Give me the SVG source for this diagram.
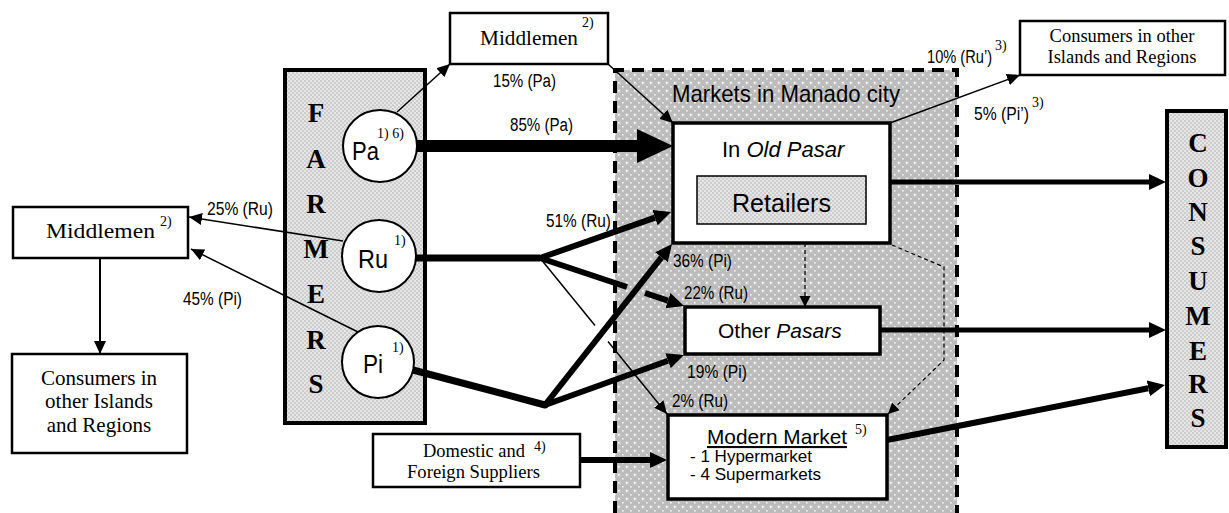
<svg xmlns="http://www.w3.org/2000/svg" width="1229" height="513" viewBox="0 0 1229 513">
<defs>
<pattern id="dots" width="8" height="8" patternUnits="userSpaceOnUse">
<rect width="8" height="8" fill="#bcbcbc"/>
<rect x="1" y="1" width="4" height="4" fill="#c6c6c6"/>
<rect x="2" y="2" width="1.6" height="1.6" fill="#ffffff"/>
<rect x="6" y="6" width="1.6" height="1.6" fill="#f4f4f4"/>
</pattern>
<pattern id="light" width="4" height="4" patternUnits="userSpaceOnUse">
<rect width="4" height="4" fill="#e6e6e6"/>
<rect x="0" y="0" width="2" height="2" fill="#cdcdcd"/>
<rect x="2" y="2" width="2" height="2" fill="#cdcdcd"/>
</pattern>
<marker id="thin" markerUnits="userSpaceOnUse" markerWidth="14" markerHeight="12" refX="13" refY="6" orient="auto">
<path d="M0,0 L13,6 L0,12 Z" fill="#000"/>
</marker>
<marker id="dash" markerUnits="userSpaceOnUse" markerWidth="12" markerHeight="12" refX="11" refY="5.5" orient="auto">
<path d="M0,0 L11,5.5 L0,11 Z" fill="#000"/>
</marker>
<marker id="med" markerUnits="userSpaceOnUse" markerWidth="18" markerHeight="17" refX="0" refY="8" orient="auto">
<path d="M0,0 L17,8 L0,16 Z" fill="#000"/>
</marker>
<marker id="big" markerUnits="userSpaceOnUse" markerWidth="37" markerHeight="35" refX="0" refY="17" orient="auto">
<path d="M0,0 L36,17 L0,34 Z" fill="#000"/>
</marker>
</defs>
<style>
.box{fill:#fff;stroke:#000;stroke-width:2.5}
.bold{fill:#fff;stroke:#000;stroke-width:3.5}
.serif{font-family:"Liberation Serif","Times New Roman",serif;fill:#000}
.sans{font-family:"Liberation Sans",Arial,sans-serif;fill:#000}
.lbl{font-family:"Liberation Sans",Arial,sans-serif;font-size:18px;fill:#000}
.sup{font-family:"Liberation Serif","Times New Roman",serif;font-size:14px;fill:#000}
.big{font-family:"Liberation Serif","Times New Roman",serif;font-weight:bold;font-size:27px;text-anchor:middle;fill:#000}
.thin{fill:none;stroke:#000;stroke-width:1.5}
.thick{fill:none;stroke:#000;stroke-width:6}
</style>

<g id="markets-area">
<rect x="615" y="70" width="342" height="445" fill="url(#dots)"/>
<path d="M615,513 V70 H957 V513" fill="none" stroke="#000" stroke-width="4" stroke-dasharray="12 8"/>
<text class="sans" x="672" y="102" font-size="24" textLength="228" lengthAdjust="spacingAndGlyphs">Markets in Manado city</text>
</g>

<g id="middlemen-left">
<rect class="box" x="13" y="207" width="175" height="51"/>
<text class="serif" x="46" y="238" font-size="22" textLength="109" lengthAdjust="spacingAndGlyphs">Middlemen</text>
<text class="sup" x="160" y="226" font-size="15">2)</text>
</g>

<g id="consumers-left">
<rect class="box" x="12" y="354" width="175" height="99"/>
<text class="serif" x="99" y="385" font-size="21" text-anchor="middle">Consumers in</text>
<text class="serif" x="99" y="408" font-size="21" text-anchor="middle">other Islands</text>
<text class="serif" x="99" y="432" font-size="21" text-anchor="middle">and Regions</text>
</g>

<g id="farmers">
<rect x="285" y="70" width="140" height="353" fill="url(#light)" stroke="#000" stroke-width="4"/>
<text class="big" x="316" y="122">F</text>
<text class="big" x="316" y="168">A</text>
<text class="big" x="316" y="213">R</text>
<text class="big" x="316" y="258">M</text>
<text class="big" x="316" y="303">E</text>
<text class="big" x="316" y="349">R</text>
<text class="big" x="316" y="393">S</text>
</g>

<g id="middlemen-top">
<rect class="box" x="450" y="13" width="158" height="51"/>
<text class="serif" x="480" y="45" font-size="21" textLength="98" lengthAdjust="spacingAndGlyphs">Middlemen</text>
<text class="sup" x="582" y="27" font-size="15">2)</text>
</g>

<g id="consumers-top">
<rect class="box" x="1020" y="21" width="205" height="54"/>
<text class="serif" x="1122" y="42" font-size="18.5" text-anchor="middle">Consumers in other</text>
<text class="serif" x="1122" y="63" font-size="18.5" text-anchor="middle">Islands and Regions</text>
</g>

<g id="domestic">
<rect class="box" x="373" y="434" width="207" height="53" stroke-width="2"/>
<text class="serif" x="423" y="457" font-size="18.5" textLength="102" lengthAdjust="spacingAndGlyphs">Domestic and</text>
<text class="serif" x="407" y="478" font-size="18.5" textLength="133" lengthAdjust="spacingAndGlyphs">Foreign Suppliers</text>
<text class="sup" x="534" y="451">4)</text>
</g>

<g id="consumers-right">
<rect x="1167" y="111" width="59" height="336" fill="url(#light)" stroke="#000" stroke-width="4"/>
<text class="big" x="1198" y="152">C</text>
<text class="big" x="1198" y="187">O</text>
<text class="big" x="1198" y="221">N</text>
<text class="big" x="1198" y="255">S</text>
<text class="big" x="1198" y="290">U</text>
<text class="big" x="1198" y="325">M</text>
<text class="big" x="1198" y="360">E</text>
<text class="big" x="1198" y="393">R</text>
<text class="big" x="1198" y="427">S</text>
</g>

<g id="connectors">
<line class="thin" x1="397" y1="112" x2="450" y2="64" marker-end="url(#thin)"/>
<line class="thin" x1="608" y1="64" x2="673" y2="123" marker-end="url(#thin)"/>
<line x1="417" y1="146" x2="637" y2="146" stroke="#000" stroke-width="12" marker-end="url(#big)"/>
<line class="thin" x1="343" y1="241" x2="189" y2="217" marker-end="url(#thin)"/>
<line class="thin" x1="358" y1="332" x2="191" y2="249" marker-end="url(#thin)"/>
<line x1="100" y1="258" x2="100" y2="354" stroke="#000" stroke-width="2" marker-end="url(#thin)"/>
<polyline points="416,258 540,258" fill="none" stroke="#000" stroke-width="7"/>
<line class="thick" x1="540" y1="258" x2="655" y2="217.6" marker-end="url(#med)"/>
<line class="thick" x1="540" y1="258" x2="627" y2="287"/>
<line class="thick" x1="645" y1="293" x2="667.9" y2="300.6" marker-end="url(#med)"/>
<line class="thin" x1="540" y1="258" x2="595" y2="325.5"/>
<line class="thin" x1="608" y1="341.5" x2="667" y2="414" marker-end="url(#thin)"/>
<line x1="413" y1="370" x2="545" y2="405" stroke="#000" stroke-width="7" stroke-linecap="round"/>
<line class="thick" x1="545" y1="405" x2="661.5" y2="257.3" marker-end="url(#med)"/>
<line class="thick" x1="545" y1="405" x2="668" y2="360.8" marker-end="url(#med)"/>
<line x1="890" y1="182" x2="1149" y2="182" stroke="#000" stroke-width="5" marker-end="url(#med)"/>
<line class="thin" x1="890" y1="123" x2="1020" y2="75" marker-end="url(#thin)"/>
<line x1="880" y1="330" x2="1149" y2="330" stroke="#000" stroke-width="5" marker-end="url(#med)"/>
<line class="thick" x1="887" y1="440" x2="1148.3" y2="388.3" marker-end="url(#med)"/>
<line x1="805" y1="243" x2="805" y2="307" fill="none" stroke="#000" stroke-width="1.2" stroke-dasharray="4 3" marker-end="url(#dash)"/>
<polyline points="892,245 944,267 944,360 888,414" fill="none" stroke="#000" stroke-width="1.2" stroke-dasharray="4 3" marker-end="url(#dash)"/>
<line class="thick" x1="580" y1="460" x2="650" y2="460" marker-end="url(#med)"/>
<text class="lbl" x="493" y="87" textLength="63" lengthAdjust="spacingAndGlyphs">15% (Pa)</text>
<text class="lbl" x="510" y="131" textLength="63" lengthAdjust="spacingAndGlyphs">85% (Pa)</text>
<text class="lbl" x="207" y="215" textLength="66" lengthAdjust="spacingAndGlyphs">25% (Ru)</text>
<text class="lbl" x="183" y="305" textLength="59" lengthAdjust="spacingAndGlyphs">45% (Pi)</text>
<text class="lbl" x="546" y="227" textLength="65" lengthAdjust="spacingAndGlyphs">51% (Ru)</text>
<text class="lbl" x="673" y="267" textLength="59" lengthAdjust="spacingAndGlyphs">36% (Pi)</text>
<text class="lbl" x="684" y="299" textLength="64" lengthAdjust="spacingAndGlyphs">22% (Ru)</text>
<text class="lbl" x="687" y="378" textLength="60" lengthAdjust="spacingAndGlyphs">19% (Pi)</text>
<text class="lbl" x="672" y="407" textLength="56" lengthAdjust="spacingAndGlyphs">2% (Ru)</text>
<text class="lbl" x="927" y="63"><tspan textLength="65" lengthAdjust="spacingAndGlyphs">10% (Ru’)</tspan><tspan class="sup" dx="3" dy="-13">3)</tspan></text>
<text class="lbl" x="974" y="120"><tspan textLength="55" lengthAdjust="spacingAndGlyphs">5% (Pi’)</tspan><tspan class="sup" dx="3" dy="-13">3)</tspan></text>
</g>

<g id="pa">
<ellipse cx="380" cy="146" rx="37" ry="36" fill="#fff" stroke="#000" stroke-width="2"/>
<text class="sans" x="352" y="160" font-size="26" textLength="27" lengthAdjust="spacingAndGlyphs">Pa</text>
<text class="sup" x="377" y="138">1) 6)</text>
</g>

<g id="ru">
<ellipse cx="379" cy="256" rx="37" ry="36" fill="#fff" stroke="#000" stroke-width="2"/>
<text class="sans" x="358" y="268" font-size="26" textLength="30" lengthAdjust="spacingAndGlyphs">Ru</text>
<text class="sup" x="394" y="245">1)</text>
</g>

<g id="pi">
<ellipse cx="378" cy="362" rx="36" ry="36" fill="#fff" stroke="#000" stroke-width="2"/>
<text class="sans" x="363" y="373" font-size="26" textLength="20" lengthAdjust="spacingAndGlyphs">Pi</text>
<text class="sup" x="392" y="352">1)</text>
</g>

<g id="old-pasar">
<rect class="bold" x="673" y="123" width="217" height="120"/>
<text class="sans" x="722" y="157" font-size="22">In <tspan font-style="italic">Old Pasar</tspan></text>
<rect x="697" y="176" width="169" height="48" fill="url(#light)" stroke="#000" stroke-width="1.5"/>
<text class="sans" x="732" y="212" font-size="25" textLength="99" lengthAdjust="spacingAndGlyphs">Retailers</text>
</g>

<g id="other-pasars">
<rect class="bold" x="685" y="307" width="195" height="47"/>
<text class="sans" x="718" y="338" font-size="21">Other <tspan font-style="italic">Pasars</tspan></text>
</g>

<g id="modern-market">
<rect class="bold" x="668" y="415" width="219" height="84"/>
<text class="sans" x="707" y="444" font-size="21" text-decoration="underline" textLength="140" lengthAdjust="spacingAndGlyphs">Modern Market</text>
<text class="sup" x="855" y="434">5)</text>
<text class="sans" x="690" y="462" font-size="17" textLength="122" lengthAdjust="spacingAndGlyphs">- 1 Hypermarket</text>
<text class="sans" x="690" y="480" font-size="17" textLength="131" lengthAdjust="spacingAndGlyphs">- 4 Supermarkets</text>
</g>
</svg>
